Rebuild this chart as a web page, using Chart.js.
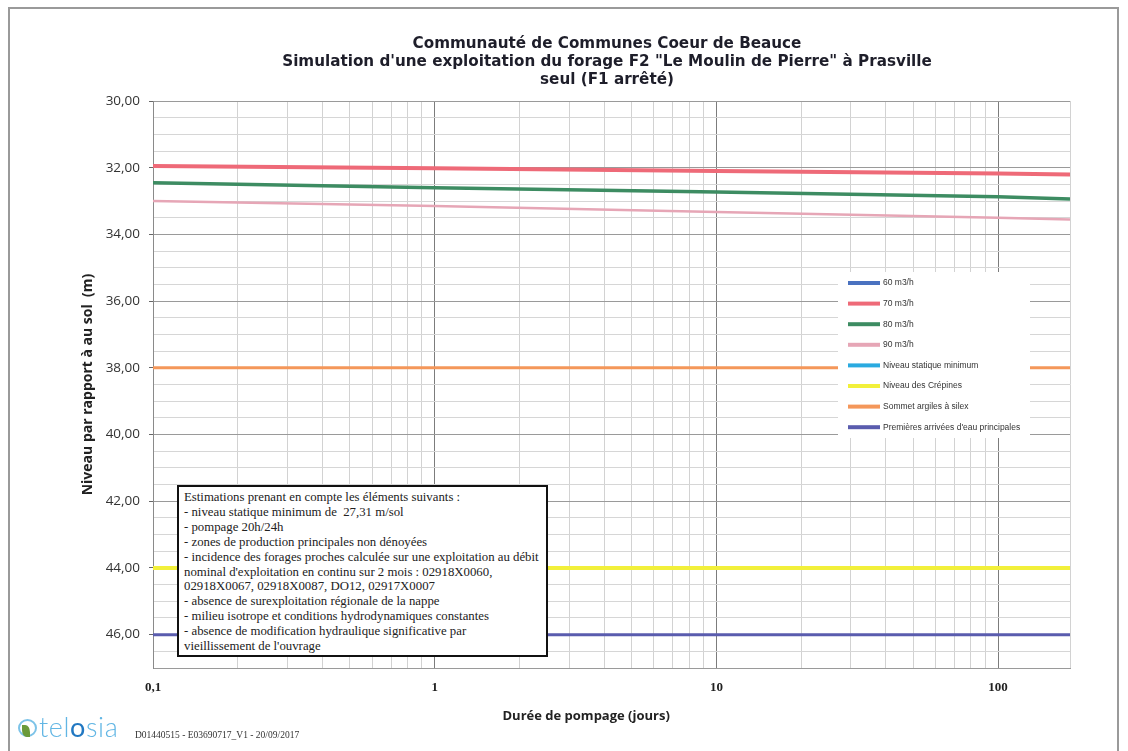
<!DOCTYPE html>
<html lang="fr">
<head>
<meta charset="utf-8">
<title>Simulation forage F2 - Prasville</title>
<script src="https://cdn.jsdelivr.net/npm/chart.js@4.4.1/dist/chart.umd.min.js"></script>
<style>
  html, body { margin: 0; padding: 0; background: #fff; }
  body { width: 1128px; height: 751px; position: relative; overflow: hidden; }
  #frame { position: absolute; left: 8px; top: 7px; width: 1111px; height: 800px;
           border: 2px solid #9a9a9a; border-bottom: none; box-sizing: border-box; }
  #chart { position: absolute; left: 0; top: 0; }
  #title { position: absolute; left: 207px; width: 800px; top: 34px; text-align: center;
           font: bold 15.2px 'DejaVu Sans', sans-serif; line-height: 18px; color: #1e1e2a; white-space: nowrap; }
  #notes { position: absolute; left: 177px; top: 485px; width: 371px; height: 172px; box-sizing: border-box;
           border: 2px solid #111; background: #fff; padding: 3px 0 0 5px;
           font: 12.8px 'Liberation Serif', serif; line-height: 14.9px; color: #222; white-space: nowrap; }
  #footer { position: absolute; left: 18px; top: 710px; height: 34px; width: 400px; }
  #logo-icon { position: absolute; left: 0; top: 9px; width: 19px; height: 18px; border-radius: 50%;
               border: 2px solid #7cc3e8; box-sizing: border-box; }
  #logo-leaf { position: absolute; left: 4px; top: 15px; width: 8px; height: 12px; background: #6a9a3a;
               border-radius: 0 60% 0 60%; }
  #logo { position: absolute; left: 21px; top: 0; font: 300 27px 'Lato', sans-serif; color: #62b6e4; letter-spacing: 0.6px; }
  #logo b { font-weight: 400; color: #2178c2; }
  #docref { position: absolute; left: 117px; top: 20px; font: 9.5px 'Liberation Serif', serif; color: #333; }
</style>
</head>
<body>
<div id="frame"></div>
<canvas id="chart" width="1128" height="751"></canvas>
<div id="title">Communauté de Communes Coeur de Beauce<br>Simulation d'une exploitation du forage F2 "Le Moulin de Pierre" à Prasville<br>seul (F1 arrêté)</div>
<div id="notes">
Estimations prenant en compte les éléments suivants :<br>
- niveau statique minimum de &nbsp;27,31 m/sol<br>
- pompage 20h/24h<br>
- zones de production principales non dénoyées<br>
- incidence des forages proches calculée sur une exploitation au débit<br>
nominal d'exploitation en continu sur 2 mois : 02918X0060,<br>
02918X0067, 02918X0087, DO12, 02917X0007<br>
- absence de surexploitation régionale de la nappe<br>
- milieu isotrope et conditions hydrodynamiques constantes<br>
- absence de modification hydraulique significative par<br>
vieillissement de l'ouvrage
</div>
<div id="footer">
  <div id="logo-icon"></div><div id="logo-leaf"></div>
  <div id="logo">tel<b>o</b>sia</div>
  <div id="docref">D01440515 - E03690717_V1 - 20/09/2017</div>
</div>

<script>
// ─── Data (durée en jours, niveau en m / sol) ───
const times = [0.1, 1, 10, 100, 180];
const q60 = [];
const q70 = [31.95, 32.02, 32.10, 32.17, 32.20];
const q80 = [32.45, 32.60, 32.73, 32.87, 32.94];
const q90 = [33.00, 33.15, 33.33, 33.50, 33.55];

const levelTimes = [0.1, 180];
const niveauStatique = [27.31, 27.31];
const niveauCrepines = [44.0, 44.0];
const sommetArgiles = [38.0, 38.0];
const premieresArrivees = [46.0, 46.0];

const xLabelTicks = [0.1, 1, 10, 100];
const xMultipliers = [1, 2, 3, 4, 5, 6, 7, 8, 9];
const yLabelTicks = [30, 32, 34, 36, 38, 40, 42, 44, 46];

const toPoints = (xs, ys) => ys.map((y, i) => ({ x: xs[i], y }));

// minor grid ticks for the log axis: 1..9 x each decade up to the max
function logGridTicks(min, max) {
  const out = [];
  for (let d = min; d <= max; d *= 10) {
    xMultipliers.forEach(m => {
      const v = Number((m * d).toPrecision(3));
      if (v >= min && v <= max) out.push(v);
    });
  }
  if (out[out.length - 1] !== max) out.push(max);
  return out;
}

// ─── Legend drawn inside the plot area, over the lines ───
const innerLegend = {
  id: 'innerLegend',
  afterDraw(chart, args, opts) {
    const { ctx } = chart;
    ctx.save();
    ctx.fillStyle = '#fff';
    ctx.fillRect(opts.x, opts.y, opts.width, opts.height);
    ctx.font = "8.5px 'Liberation Sans Narrow', 'Liberation Sans', sans-serif";
    ctx.textBaseline = 'middle';
    chart.data.datasets.forEach((ds, i) => {
      const y = opts.y + opts.first + i * opts.step;
      ctx.strokeStyle = ds.borderColor;
      ctx.lineWidth = 4;
      ctx.beginPath();
      ctx.moveTo(opts.x + 10, y);
      ctx.lineTo(opts.x + 42, y);
      ctx.stroke();
      ctx.fillStyle = '#333';
      ctx.fillText(ds.label, opts.x + 45, y);
    });
    ctx.restore();
  }
};

const lineDefaults = { pointRadius: 0, tension: 0, fill: false };

new Chart(document.getElementById('chart'), {
  type: 'line',
  data: {
    datasets: [
      { ...lineDefaults, label: '60 m3/h', data: toPoints(times, q60), borderColor: '#4a72c0', borderWidth: 3 },
      { ...lineDefaults, label: '70 m3/h', data: toPoints(times, q70), borderColor: '#ee6a78', borderWidth: 4 },
      { ...lineDefaults, label: '80 m3/h', data: toPoints(times, q80), borderColor: '#3d8c62', borderWidth: 3.5 },
      { ...lineDefaults, label: '90 m3/h', data: toPoints(times, q90), borderColor: '#e6a6b6', borderWidth: 2.5 },
      { ...lineDefaults, label: 'Niveau statique minimum', data: toPoints(levelTimes, niveauStatique), borderColor: '#2aaae0', borderWidth: 3 },
      { ...lineDefaults, label: 'Niveau des Crépines', data: toPoints(levelTimes, niveauCrepines), borderColor: '#f2f03a', borderWidth: 4 },
      { ...lineDefaults, label: 'Sommet argiles à silex', data: toPoints(levelTimes, sommetArgiles), borderColor: '#f4975a', borderWidth: 3 },
      { ...lineDefaults, label: "Premières arrivées d'eau principales", data: toPoints(levelTimes, premieresArrivees), borderColor: '#5a5cae', borderWidth: 3 },
    ],
  },
  options: {
    responsive: false,
    animation: false,
    devicePixelRatio: 1,
    layout: { padding: { top: 101, left: 0, right: 58, bottom: 23 } },
    plugins: {
      legend: { display: false },
      tooltip: { enabled: false },
      title: { display: false },
      innerLegend: { x: 838, y: 272, width: 192, height: 166, first: 11, step: 20.6 },
    },
    scales: {
      x: {
        type: 'logarithmic',
        min: 0.1,
        max: 180,
        afterBuildTicks: scale => { scale.ticks = logGridTicks(0.1, 180).map(v => ({ value: v })); },
        afterFit: scale => { scale.height = 60; },
        ticks: {
          autoSkip: false,
          maxRotation: 0,
          padding: 12,
          color: '#222',
          font: { family: "'Liberation Serif', serif", size: 13, weight: 'bold' },
          callback: v => xLabelTicks.includes(v) ? String(v).replace('.', ',') : '',
        },
        grid: {
          drawTicks: false,
          color: c => c.tick && xLabelTicks.includes(c.tick.value) ? '#7c7c7c' : '#d2d2d2',
          lineWidth: 1,
        },
        border: { color: '#9a9a9a' },
        title: {
          display: true,
          // trailing spaces keep the title slightly left of centre, as in the original sheet
          text: 'Durée de pompage (jours)               ',
          color: '#222',
          font: { family: "'Open Sans', sans-serif", size: 13, weight: 'bold' },
          padding: { top: 0, bottom: 4 },
        },
      },
      y: {
        reverse: true,
        min: 30,
        max: 47,
        afterFit: scale => { scale.width = 153; },
        ticks: {
          stepSize: 0.5,
          autoSkip: false,
          padding: 9,
          color: '#333',
          font: { family: "'Open Sans', sans-serif", size: 13.5 },
          callback: v => yLabelTicks.includes(v) ? v.toFixed(2).replace('.', ',') : '',
        },
        grid: {
          tickLength: 4,
          color: c => c.tick && yLabelTicks.includes(c.tick.value) ? '#9a9a9a' : '#d6d6d6',
          tickColor: c => c.tick && yLabelTicks.includes(c.tick.value) ? '#666' : 'rgba(0,0,0,0)',
        },
        border: { color: '#8a8a8a' },
        title: {
          display: true,
          text: 'Niveau par rapport à au sol  (m)',
          color: '#222',
          font: { family: "'Open Sans', sans-serif", size: 14, weight: 'bold' },
          padding: { top: 80, bottom: 0 },
        },
      },
    },
  },
  plugins: [innerLegend],
});
</script>
</body>
</html>
